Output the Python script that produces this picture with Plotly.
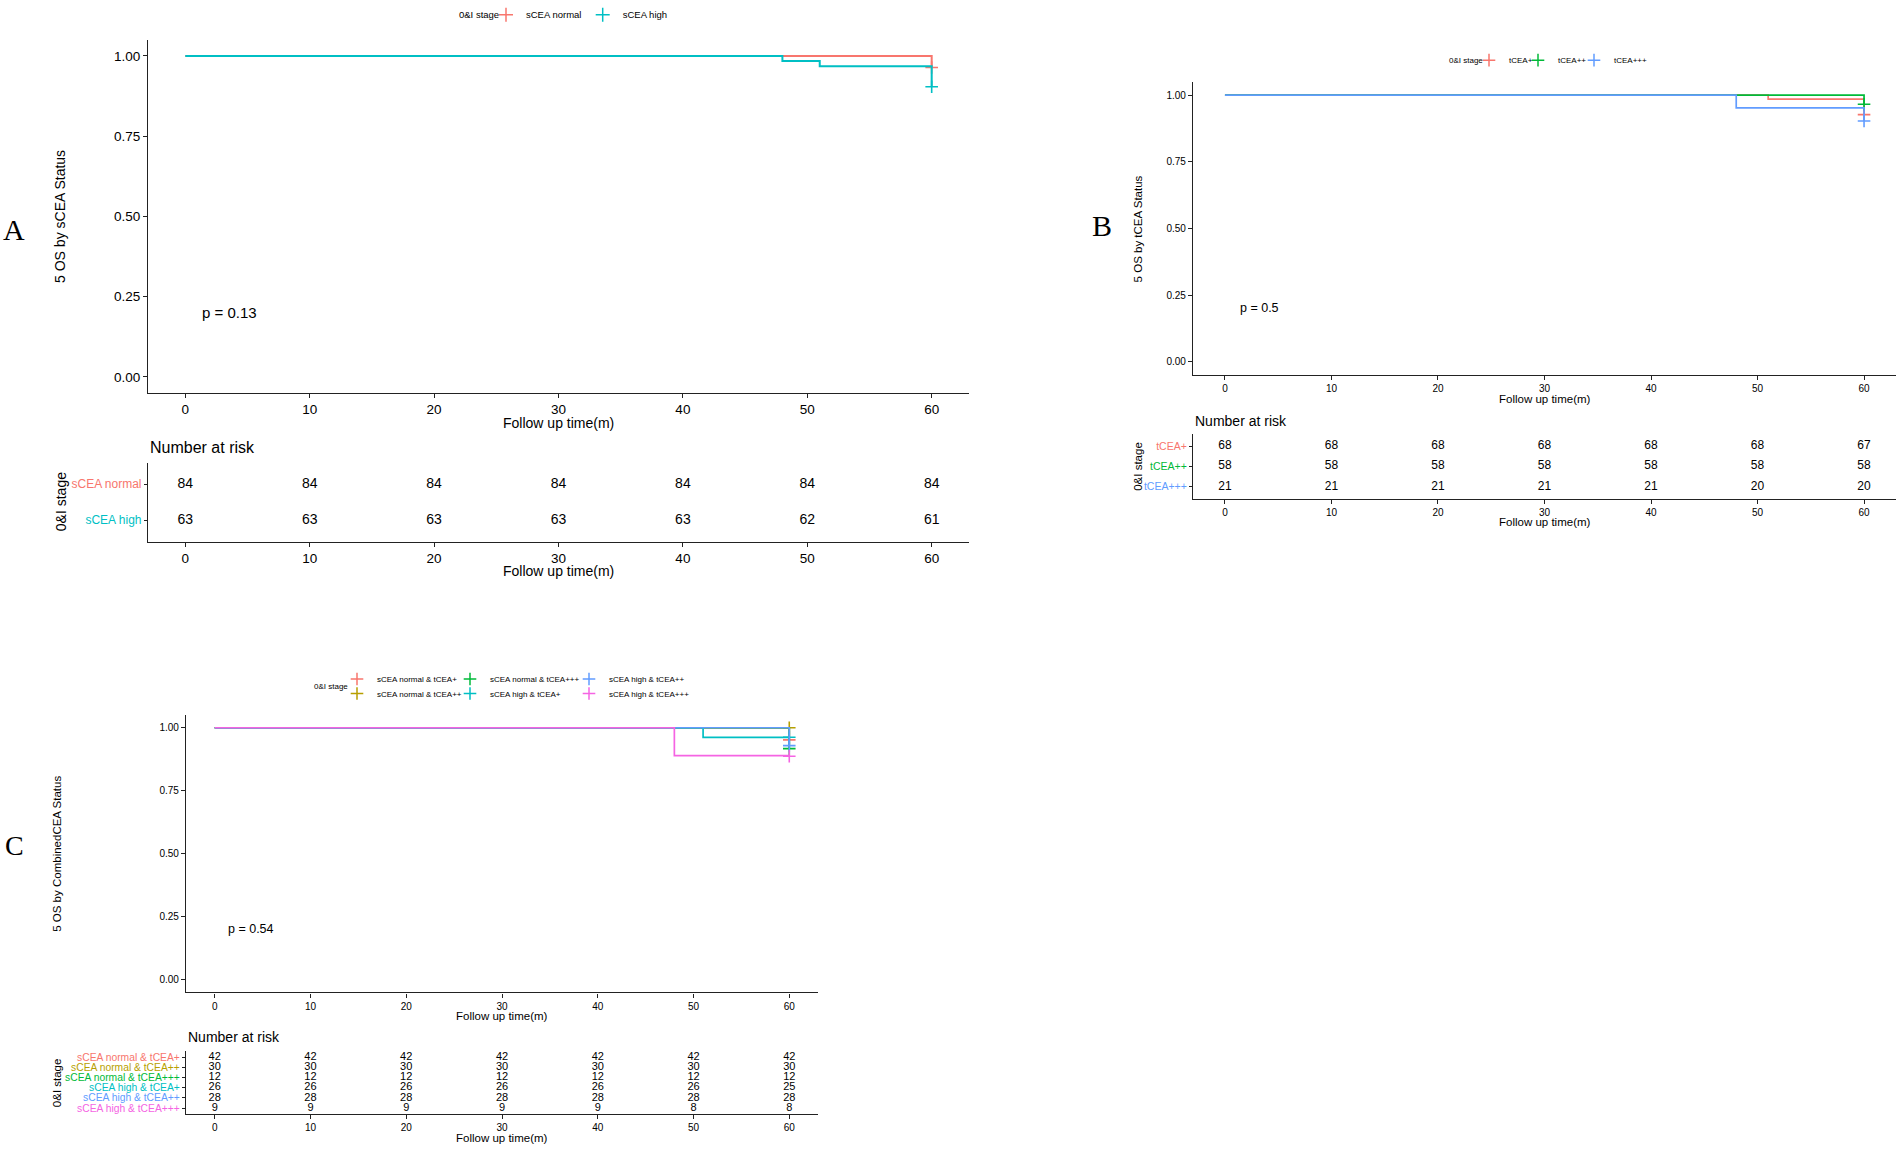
import plotly.graph_objects as go

W, H = 1903, 1152

# ------------------------------------------------------------------ data
time_breaks = [0, 10, 20, 30, 40, 50, 60]
y_breaks = [0, 0.25, 0.5, 0.75, 1.0]
y_labels = ["0.00", "0.25", "0.50", "0.75", "1.00"]

# Panel A : sCEA status
a_groups = ["sCEA normal", "sCEA high"]
a_colors = ["#F8766D", "#00BFC4"]
a_times = [[0, 60], [0, 48, 51, 60]]
a_surv = [[1.0, 0.964], [1.0, 0.984, 0.968, 0.904]]
a_risk = [[84, 84, 84, 84, 84, 84, 84],
          [63, 63, 63, 63, 63, 62, 61]]
a_pval = "p = 0.13"

# Panel B : tCEA status
b_groups = ["tCEA+", "tCEA++", "tCEA+++"]
b_colors = ["#F8766D", "#00BA38", "#619CFF"]
b_times = [[0, 51, 60], [0, 60], [0, 48, 60]]
b_surv = [[1.0, 0.985, 0.927], [1.0, 0.966], [1.0, 0.952, 0.903]]
b_risk = [[68, 68, 68, 68, 68, 68, 67],
          [58, 58, 58, 58, 58, 58, 58],
          [21, 21, 21, 21, 21, 20, 20]]
b_pval = "p = 0.5"

# Panel C : combined CEA status
c_groups = ["sCEA normal & tCEA+", "sCEA normal & tCEA++", "sCEA normal & tCEA+++",
            "sCEA high & tCEA+", "sCEA high & tCEA++", "sCEA high & tCEA+++"]
c_colors = ["#F8766D", "#B79F00", "#00BA38", "#00BFC4", "#619CFF", "#F564E3"]
c_times = [[0, 60], [0, 60], [0, 60], [0, 51, 60], [0, 60], [0, 48, 60]]
c_surv = [[1.0, 0.952], [1.0, 1.0], [1.0, 0.917], [1.0, 0.962, 0.962],
          [1.0, 0.929], [1.0, 0.889, 0.887]]
c_risk = [[42, 42, 42, 42, 42, 42, 42],
          [30, 30, 30, 30, 30, 30, 30],
          [12, 12, 12, 12, 12, 12, 12],
          [26, 26, 26, 26, 26, 26, 25],
          [28, 28, 28, 28, 28, 28, 28],
          [9, 9, 9, 9, 9, 8, 8]]
c_pval = "p = 0.54"

strata_title = "0&I stage"
xtitle = "Follow up time(m)"

# ------------------------------------------------------------------ layout helpers
SANS = "Liberation Sans, Arial, sans-serif"
SERIF = "Liberation Serif, Times New Roman, serif"
AX = "#222222"


def fx(px):
    return px / W


def fy(py):
    return 1 - py / H


panels = [
    dict(key="A", groups=a_groups, colors=a_colors, times=a_times, surv=a_surv, risk=a_risk,
         pval=a_pval, ytitle="5 OS by sCEA Status",
         x0=148, x1=969, my0=37, my1=391, ry0=461, ry1=540,
         tick_fs=13.5, title_fs=14, main_xt=421, risk_xt=569,
         ytx=60.5, yty=214, letter=(14, 227), nar_y=446, nar_fs=16,
         ry_t=500, risk_fs=14, risk_lab_fs=12, p_fs=15, lw=2.0, letter_fs=30,
         leg_fs=9.5, leg_msize=10, leg_title=(456.7, 11.7),
         leg_x=[486, 582.7], leg_y=[11.7, 11.7],
         ax_main=("x", "y"), ax_risk=("x2", "y2")),
    dict(key="B", groups=b_groups, colors=b_colors, times=b_times, surv=b_surv, risk=b_risk,
         pval=b_pval, ytitle="5 OS by tCEA Status",
         x0=1193, x1=1896, my0=79, my1=373, ry0=432, ry1=497,
         tick_fs=10, title_fs=11.5, main_xt=397, risk_xt=520,
         ytx=1138, yty=227, letter=(1102, 223), nar_y=419, nar_fs=14,
         ry_t=465, risk_fs=12, risk_lab_fs=10.5, p_fs=12.5, lw=1.7, letter_fs=30,
         leg_fs=8, leg_msize=9, leg_title=(1446.7, 57.3),
         leg_x=[1469, 1518, 1574], leg_y=[57.3, 57.3, 57.3],
         ax_main=("x3", "y3"), ax_risk=("x4", "y4")),
    dict(key="C", groups=c_groups, colors=c_colors, times=c_times, surv=c_surv, risk=c_risk,
         pval=c_pval, ytitle="5 OS by CombinedCEA Status",
         x0=186, x1=818, my0=714, my1=992, ry0=1051, ry1=1114,
         tick_fs=10, title_fs=11.5, main_xt=1016, risk_xt=1138,
         ytx=57, yty=853, letter=(14, 845), nar_y=1037, nar_fs=14,
         ry_t=1083, risk_fs=11, risk_lab_fs=10.3, p_fs=12.5, lw=1.7, letter_fs=28,
         leg_fs=8, leg_msize=9, leg_title=(311.7, 685),
         leg_x=[337, 337, 450, 450, 569, 569],
         leg_y=[677.7, 692.3, 677.7, 692.3, 677.7, 692.3],
         ax_main=("x5", "y5"), ax_risk=("x6", "y6")),
]

fig = go.Figure()
layout = dict(
    width=W, height=H, paper_bgcolor="white", plot_bgcolor="white",
    margin=dict(l=0, r=0, t=0, b=0), font=dict(family=SANS, color="black"),
    showlegend=True, annotations=[],
)


def axis_base(fs):
    return dict(showline=True, linecolor=AX, linewidth=1.2, ticks="outside", ticklen=4,
                tickcolor=AX, tickwidth=1.1, showgrid=False, zeroline=False,
                tickfont=dict(family=SANS, size=fs, color="black"), fixedrange=True)


leg_counter = 0
for P in panels:
    xm, ym = P["ax_main"]
    xr, yr = P["ax_risk"]
    dom_x = [fx(P["x0"]), fx(P["x1"])]

    # main axes
    ax = axis_base(P["tick_fs"])
    ax.update(domain=dom_x, range=[-3, 63], tickvals=time_breaks, anchor=ym)
    layout["xaxis" + xm[1:]] = ax
    ay = axis_base(P["tick_fs"])
    ay.update(domain=[fy(P["my1"]), fy(P["my0"])], range=[-0.05, 1.05],
              tickvals=y_breaks, ticktext=y_labels, anchor=xm)
    layout["yaxis" + ym[1:]] = ay

    # risk table axes
    n = len(P["groups"])
    ax2 = axis_base(P["tick_fs"])
    ax2.update(domain=dom_x, range=[-3, 63], tickvals=time_breaks, anchor=yr)
    layout["xaxis" + xr[1:]] = ax2
    ay2 = axis_base(P["risk_lab_fs"])
    ay2.update(domain=[fy(P["ry1"]), fy(P["ry0"])], range=[n - 0.4, -0.6],
               tickvals=list(range(n)), ticklen=3,
               ticktext=['<span style="color:%s">%s</span>' % (c, g)
                         for g, c in zip(P["groups"], P["colors"])],
               anchor=xr)
    layout["yaxis" + yr[1:]] = ay2

    for i, (g, c) in enumerate(zip(P["groups"], P["colors"])):
        t = P["times"][i]
        s = P["surv"][i]
        # survival step curve
        fig.add_trace(go.Scatter(x=t, y=s, mode="lines", line=dict(color=c, width=P["lw"], shape="hv"),
                                 xaxis=xm, yaxis=ym, showlegend=False, hoverinfo="skip"))
        # censor mark at end of follow-up
        fig.add_trace(go.Scatter(x=[t[-1]], y=[s[-1]], mode="markers",
                                 marker=dict(symbol="cross-thin", size=9, color=c,
                                             line=dict(color=c, width=1.6)),
                                 xaxis=xm, yaxis=ym, showlegend=False, hoverinfo="skip"))
        # legend entry (each in its own legend box so it sits like the ggplot key)
        leg_counter += 1
        lname = "legend" if leg_counter == 1 else "legend%d" % leg_counter
        fig.add_trace(go.Scatter(x=[None], y=[None], mode="markers", name=g,
                                 marker=dict(symbol="cross-thin", size=P["leg_msize"], color=c,
                                             line=dict(color=c, width=1.5)),
                                 xaxis=xm, yaxis=ym, legend=lname, showlegend=True))
        layout[lname] = dict(x=fx(P["leg_x"][i]), xanchor="left", y=fy(P["leg_y"][i]),
                             yanchor="middle", bgcolor="rgba(0,0,0,0)", itemwidth=30,
                             font=dict(family=SANS, size=P["leg_fs"], color="black"))
        # number-at-risk row
        fig.add_trace(go.Scatter(x=time_breaks, y=[i] * len(time_breaks), mode="text",
                                 text=[str(v) for v in P["risk"][i]],
                                 textfont=dict(family=SANS, size=P["risk_fs"], color="black"),
                                 xaxis=xr, yaxis=yr, showlegend=False, hoverinfo="skip"))

    ann = layout["annotations"]
    xc = fx((P["x0"] + P["x1"]) / 2)
    for ty in (P["main_xt"], P["risk_xt"]):
        ann.append(dict(text=xtitle, x=xc, y=fy(ty), xref="paper", yref="paper",
                        xanchor="center", yanchor="middle", showarrow=False,
                        font=dict(family=SANS, size=P["title_fs"], color="black")))
    ann.append(dict(text=P["ytitle"], x=fx(P["ytx"]), y=fy(P["yty"]), xref="paper", yref="paper",
                    textangle=-90, xanchor="center", yanchor="middle", showarrow=False,
                    font=dict(family=SANS, size=P["title_fs"], color="black")))
    ann.append(dict(text=strata_title, x=fx(P["ytx"]), y=fy(P["ry_t"]), xref="paper", yref="paper",
                    textangle=-90, xanchor="center", yanchor="middle", showarrow=False,
                    font=dict(family=SANS, size=P["title_fs"], color="black")))
    ann.append(dict(text="Number at risk", x=fx(P["x0"]), y=fy(P["nar_y"]), xref="paper", yref="paper",
                    xanchor="left", yanchor="middle", showarrow=False,
                    font=dict(family=SANS, size=P["nar_fs"], color="black")))
    ann.append(dict(text=P["pval"], x=1.2, y=0.2, xref=xm, yref=ym,
                    xanchor="left", yanchor="middle", showarrow=False,
                    font=dict(family=SANS, size=P["p_fs"], color="black")))
    ann.append(dict(text=P["key"], x=fx(P["letter"][0]), y=fy(P["letter"][1]), xref="paper", yref="paper",
                    xanchor="center", yanchor="middle", showarrow=False,
                    font=dict(family=SERIF, size=P["letter_fs"], color="black")))
    ann.append(dict(text=strata_title, x=fx(P["leg_title"][0]), y=fy(P["leg_title"][1]),
                    xref="paper", yref="paper", xanchor="left", yanchor="middle", showarrow=False,
                    font=dict(family=SANS, size=P["leg_fs"], color="black")))

fig.update_layout(**layout)
fig.write_html("out.html", config={"displayModeBar": False},
               post_script="document.body.style.margin='0px';")
